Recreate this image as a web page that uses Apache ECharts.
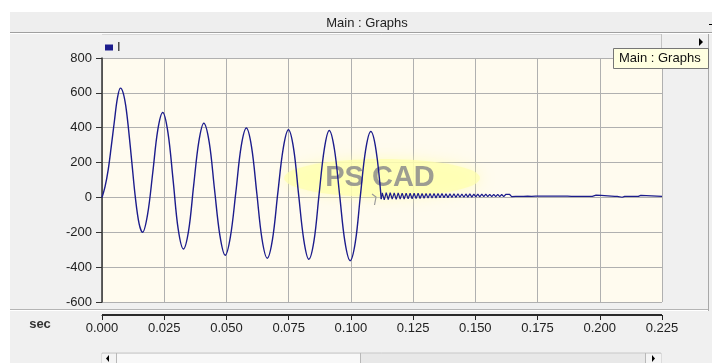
<!DOCTYPE html>
<html>
<head>
<meta charset="utf-8">
<script src="https://cdn.jsdelivr.net/npm/echarts@6/dist/echarts.min.js"></script>
<style>
  html, body { margin: 0; padding: 0; background: #ffffff; }
  #chart { width: 712px; height: 363px; }
</style>
</head>
<body>
<div id="chart"></div>
<script>
// Fault current I (A) against simulation time (s)
const mainTime = [
  0, 0.0012, 0.0025, 0.0037, 0.0050, 0.0062, 0.0074, 0.0085, 0.0096, 0.0106,
  0.0120, 0.0134, 0.0149, 0.0163, 0.0183, 0.0204, 0.0224, 0.0244, 0.0265, 0.0286,
  0.0306, 0.0327, 0.0348, 0.0368, 0.0389, 0.0409, 0.0431, 0.0452, 0.0474, 0.0495,
  0.0516, 0.0538, 0.0559, 0.0580, 0.0601, 0.0622, 0.0643, 0.0664, 0.0685, 0.0706,
  0.0728, 0.0749, 0.0770, 0.0790, 0.0811, 0.0831, 0.0852, 0.0872, 0.0893, 0.0913,
  0.0934, 0.0955, 0.0976, 0.0997, 0.1018, 0.1038, 0.1059, 0.1080, 0.1101, 0.1122
];
const mainCurrent = [
  0, 60, 160, 290, 440, 570, 627, 600, 520, 400,
  200, 0, -150, -200, -99, 143, 386, 487, 372, 95,
  -181, -296, -190, 65, 320, 426, 315, 47, -221, -332,
  -225, 33, 291, 398, 289, 24, -240, -349, -241, 20,
  280, 388, 279, 16, -246, -355, -247, 15, 276, 384,
  275, 10, -254, -363, -255, 8, 270, 378, 272, -10
];

// Residual ringing after the breaker clears, sampled every ringStep seconds
const ringStart = 0.1126;
const ringStep = 0.0008;
const ringCurrent = [
  26, -14, 28, -12, 27, -10, 26, -11, 26, -9, 25, -9, 25, -8, 24, -8, 24, -7, 24, -6,
  23, -5, 23, -4, 23, -4, 22, -3, 22, -2, 22, -2, 21, -1, 21, 0, 21, 0, 21, 1,
  20, 1, 20, 2, 20, 2, 19, 3, 19, 3, 19, 4, 19, 4, 18, 4, 18, 5, 18, 5,
  17, 5, 17, 6, 17, 5, 16, 6, 16, 6, 16, 6, 15, 7, 15, 6, 14, 7, 14, 7,
  13, 7, 13, 7, 12, 7, 12, 7, 11, 7, 11, 7, 10, 7, 9, 6, 9, 6
];

// Settled tail with a few small blips
const tailTime = [0.1910, 0.1960, 0.1965, 0.1970, 0.1985, 0.1990, 0.2005, 0.2010,
  0.2060, 0.2065, 0.2070, 0.2090, 0.2095, 0.2100, 0.2145, 0.2150, 0.2155, 0.2165, 0.2170, 0.2250];
const tailCurrent = [6, 6, 13, 6, 13, 6, 12, 6,
  6, 1, 6, 1, 6, 6, 6, 13, 6, 12, 6, 6];

const xTicks = { min: 0, max: 0.225, step: 0.025 };
const yTicks = { min: -600, max: 800, step: 200 };

const traceColor = '#1c1c8c';
const font = 'Liberation Sans, Arial, sans-serif';

const mainData = mainTime.map((t, i) => [t, mainCurrent[i]]);
const tailData = [[mainTime[mainTime.length - 1], mainCurrent[mainCurrent.length - 1]]];
ringCurrent.forEach((v, i) => tailData.push([ringStart + i * ringStep, v]));
tailTime.forEach((t, i) => tailData.push([t, tailCurrent[i]]));

const chart = echarts.init(document.getElementById('chart'), null, { renderer: 'canvas' });

const option = {
  animation: false,
  backgroundColor: '#f0f0f0',
  textStyle: { fontFamily: font },
  grid: [
    {
      left: 102, right: 50, top: 58, bottom: 61,
      show: true, backgroundColor: '#fffbef', borderWidth: 0
    },
    // separate time-axis strip under the plot
    { left: 102, right: 50, top: 314, height: 1, show: false }
  ],
  legend: {
    data: ['I'],
    left: 105, top: 41, padding: 0,
    icon: 'rect', itemWidth: 8, itemHeight: 6, itemGap: 4,
    textStyle: { fontFamily: font, fontSize: 13, color: '#222', padding: [0, 0, 0, -1] }
  },
  xAxis: [
    {
      type: 'value', gridIndex: 0,
      min: xTicks.min, max: xTicks.max, interval: xTicks.step,
      axisLine: { show: false },
      axisTick: { show: false },
      axisLabel: { show: false },
      splitLine: { show: true, lineStyle: { color: '#b0b0b0', width: 1 } }
    },
    {
      type: 'value', gridIndex: 1, position: 'bottom',
      min: xTicks.min, max: xTicks.max, interval: xTicks.step,
      axisLine: { show: true, onZero: false, lineStyle: { color: '#222', width: 1 } },
      axisTick: { show: true, length: 5, lineStyle: { color: '#222', width: 1 } },
      axisLabel: {
        fontFamily: font, fontSize: 13, color: '#222', margin: 7,
        formatter: v => v.toFixed(3)
      },
      splitLine: { show: false }
    }
  ],
  yAxis: [
    {
      type: 'value', gridIndex: 0,
      min: yTicks.min, max: yTicks.max, interval: yTicks.step,
      axisLine: { show: true, onZero: false, lineStyle: { color: '#333', width: 1.5 } },
      axisTick: { show: true, length: 6, lineStyle: { color: '#333' } },
      axisLabel: { fontFamily: font, fontSize: 13, color: '#222', margin: 10 },
      splitLine: { show: true, lineStyle: { color: '#b0b0b0', width: 1 } }
    },
    { type: 'value', gridIndex: 1, min: 0, max: 1, show: false }
  ],
  graphic: [
    // page margins
    { type: 'rect', shape: { x: 0, y: 0, width: 712, height: 12 }, style: { fill: '#ffffff' }, silent: true },
    { type: 'rect', shape: { x: 0, y: 0, width: 10, height: 363 }, style: { fill: '#ffffff' }, silent: true },
    // title bar
    { type: 'rect', shape: { x: 10, y: 12, width: 702, height: 20 }, style: { fill: '#eeeeee' }, silent: true },
    { type: 'line', shape: { x1: 10, y1: 32.5, x2: 712, y2: 32.5 }, style: { stroke: '#a0a0a0', lineWidth: 1 }, silent: true },
    { type: 'line', shape: { x1: 10, y1: 33.5, x2: 712, y2: 33.5 }, style: { stroke: '#ffffff', lineWidth: 1 }, silent: true },
    { type: 'text', x: 367, y: 23, style: { text: 'Main : Graphs', font: '13px ' + font, fill: '#222', align: 'center', verticalAlign: 'middle' }, silent: true },
    { type: 'rect', shape: { x: 709, y: 24, width: 3, height: 1 }, style: { fill: '#000' }, silent: true },
    // legend strip and right panel edges
    { type: 'line', shape: { x1: 102, y1: 34.5, x2: 661, y2: 34.5 }, style: { stroke: '#d8d8d8', lineWidth: 1 }, silent: true },
    { type: 'line', shape: { x1: 661.5, y1: 34, x2: 661.5, y2: 57 }, style: { stroke: '#c4c4c4', lineWidth: 1 }, silent: true },
    { type: 'line', shape: { x1: 708.5, y1: 34, x2: 708.5, y2: 311 }, style: { stroke: '#a8a8a8', lineWidth: 1 }, silent: true },
    { type: 'polygon', shape: { points: [[699, 38], [703, 42], [699, 46]] }, style: { fill: '#000' }, silent: true },
    // lower separator
    { type: 'line', shape: { x1: 10, y1: 309.5, x2: 708, y2: 309.5 }, style: { stroke: '#b4b4b4', lineWidth: 1 }, silent: true },
    { type: 'line', shape: { x1: 10, y1: 310.5, x2: 708, y2: 310.5 }, style: { stroke: '#ffffff', lineWidth: 1 }, silent: true },
    { type: 'text', x: 40, y: 324, style: { text: 'sec', font: 'bold 13px ' + font, fill: '#333', align: 'center', verticalAlign: 'middle' }, silent: true },
    // time-axis baseline under the plot
    { type: 'rect', shape: { x: 102, y: 314, width: 560, height: 2 }, style: { fill: '#2a2a2a' }, silent: true, z: 20 },
    // horizontal scrollbar
    { type: 'rect', shape: { x: 102, y: 353, width: 559, height: 12 }, style: { fill: '#e8e8e8', stroke: '#c8c8c8', lineWidth: 1 }, silent: true },
    { type: 'rect', shape: { x: 116, y: 354, width: 244, height: 10 }, style: { fill: '#f8f8f8' }, silent: true },
    { type: 'line', shape: { x1: 116.5, y1: 353, x2: 116.5, y2: 363 }, style: { stroke: '#b8b8b8', lineWidth: 1 }, silent: true },
    { type: 'line', shape: { x1: 360.5, y1: 353, x2: 360.5, y2: 363 }, style: { stroke: '#b8b8b8', lineWidth: 1 }, silent: true },
    { type: 'line', shape: { x1: 645.5, y1: 353, x2: 645.5, y2: 363 }, style: { stroke: '#b8b8b8', lineWidth: 1 }, silent: true },
    { type: 'rect', shape: { x: 102, y: 354, width: 14, height: 10 }, style: { fill: '#f4f4f4' }, silent: true },
    { type: 'rect', shape: { x: 646, y: 354, width: 15, height: 10 }, style: { fill: '#f4f4f4' }, silent: true },
    { type: 'polygon', shape: { points: [[109, 355], [106, 358.5], [109, 362]] }, style: { fill: '#000' }, silent: true },
    { type: 'polygon', shape: { points: [[652, 355], [655, 358.5], [652, 362]] }, style: { fill: '#000' }, silent: true },
    // hover note
    { type: 'rect', shape: { x: 613.5, y: 48.5, width: 95, height: 20 }, style: { fill: '#ffffe1', stroke: '#767676', lineWidth: 1 }, silent: true, z: 10 },
    { type: 'text', x: 619, y: 58.5, style: { text: 'Main : Graphs', font: '13px ' + font, fill: '#111', verticalAlign: 'middle' }, silent: true, z: 11 },
    // logo watermark behind the trace
    { type: 'ellipse', shape: { cx: 382, cy: 178, rx: 98, ry: 19 }, style: { fill: 'rgba(255,255,175,0.75)', shadowBlur: 14, shadowColor: 'rgba(255,255,175,0.9)' }, silent: true, z: 1 },
    { type: 'text', x: 380, y: 178, style: { text: 'PS CAD', font: 'bold 29px ' + font, fill: 'rgba(140,140,140,0.85)', align: 'center', verticalAlign: 'middle' }, silent: true, z: 1 },
    { type: 'polyline', shape: { points: [[372, 194], [376, 197], [374.5, 205]] }, style: { stroke: '#9a9a9a', lineWidth: 1.2 }, silent: true, z: 1 }
  ],
  series: [
    {
      name: 'I', type: 'line', data: mainData, xAxisIndex: 0, yAxisIndex: 0,
      smooth: 0.35, showSymbol: false, clip: true,
      lineStyle: { color: traceColor, width: 1.4 }, itemStyle: { color: traceColor }
    },
    {
      name: 'I', type: 'line', data: tailData, xAxisIndex: 0, yAxisIndex: 0,
      smooth: false, showSymbol: false, clip: true,
      lineStyle: { color: traceColor, width: 1.2 }, itemStyle: { color: traceColor }
    }
  ]
};

chart.setOption(option);
</script>
</body>
</html>
